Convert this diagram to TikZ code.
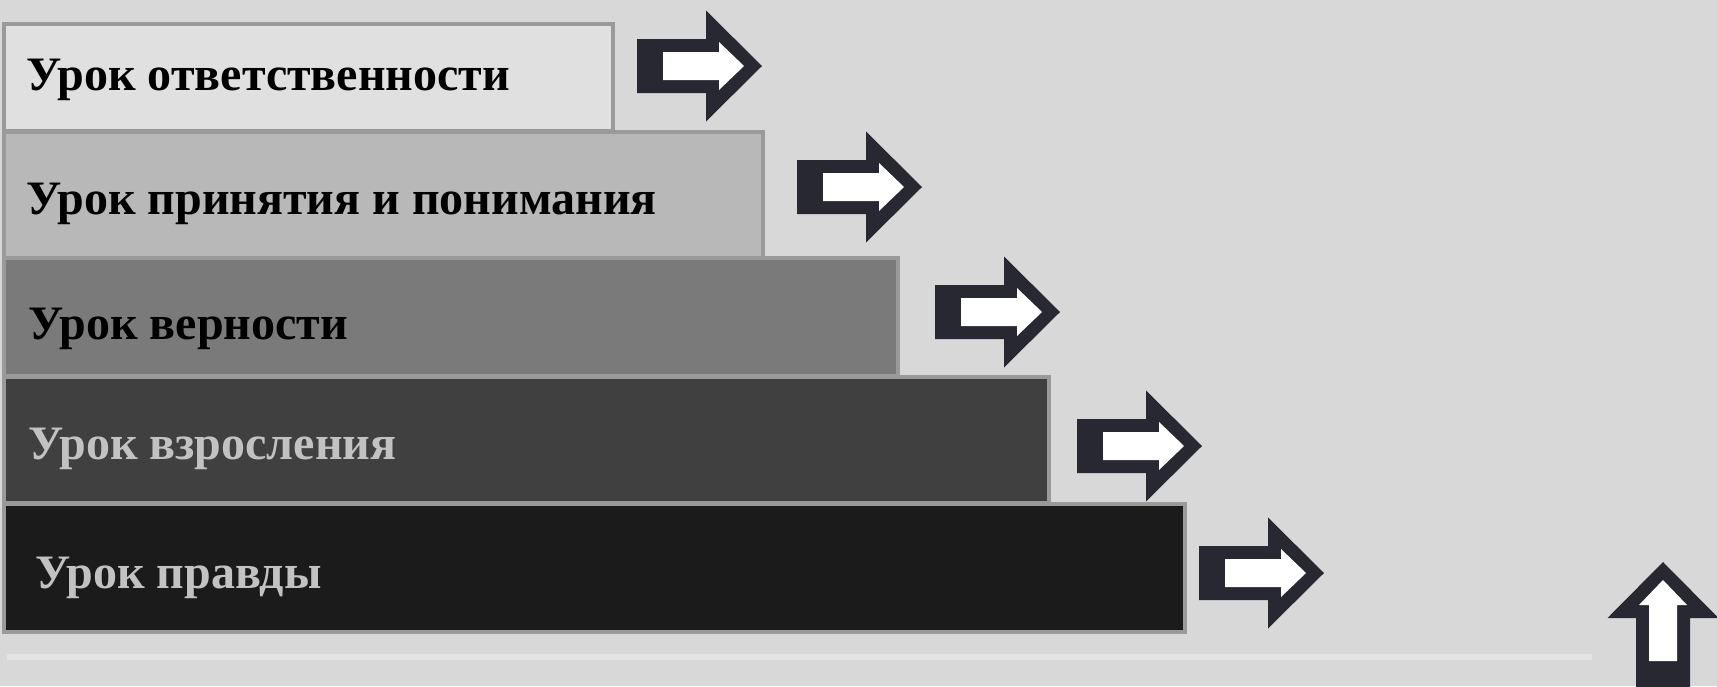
\documentclass[tikz,border=0pt]{standalone}
\usepackage{fontspec}
\setmainfont{Liberation Serif}
\definecolor{bg}{HTML}{D8D8D8}
\definecolor{edge}{HTML}{9A9A9A}
\definecolor{arr}{HTML}{282833}
\definecolor{lt}{HTML}{C2C2C2}
\definecolor{rule}{HTML}{E3E3E3}
\definecolor{fA}{HTML}{E0E0E0}
\definecolor{fB}{HTML}{B8B8B8}
\definecolor{fC}{HTML}{7A7A7A}
\definecolor{fD}{HTML}{404040}
\definecolor{fE}{HTML}{1B1B1B}
\tikzset{
  bar/.style={draw=edge, line width=3.5pt},
  lbl/.style={anchor=base west, inner sep=0pt, font=\fontsize{48}{52}\selectfont\bfseries},
  rarr/.pic={
    \fill[arr] (0,-27)--(69,-27)--(69,-55.5)--(125,0)--(69,55.5)--(69,27)--(0,27)--cycle;
    \fill[white] (26,-14)--(82,-14)--(82,-24)--(107,0)--(82,24)--(82,14)--(26,14)--cycle;
  }
}
\begin{document}
\begin{tikzpicture}[x=1pt,y=-1pt]
\useasboundingbox (0,0) rectangle (1717,686);
\fill[bg] (0,0) rectangle (1717,686);
\draw[line width=6pt, rule] (7,657) -- (1592,657);
% bars
\draw[bar, fill=fA] (4,24) rectangle (613,131);
\draw[bar, fill=fB] (4,132) rectangle (763,258);
\draw[bar, fill=fC] (4,258) rectangle (898,376);
\draw[bar, fill=fD] (4,377) rectangle (1049,503);
\draw[bar, fill=fE] (4,504) rectangle (1185,632);
% labels
\node[lbl, text=black] (t1) at (26,90) {Урок ответственности};
\node[lbl, text=black] (t2) at (26,214) {Урок принятия и понимания};
\node[lbl, text=black] (t3) at (28,339) {Урок верности};
\node[lbl, text=lt] (t4) at (28,459) {Урок взросления};
\node[lbl, text=lt] (t5) at (35,588) {Урок правды};
% arrows
\pic at (637,66) {rarr};
\pic at (797,187) {rarr};
\pic at (935,312) {rarr};
\pic at (1077,446) {rarr};
\pic at (1199,573) {rarr};
\pic[rotate=90] at (1663,687) {rarr};
\end{tikzpicture}
\end{document}
